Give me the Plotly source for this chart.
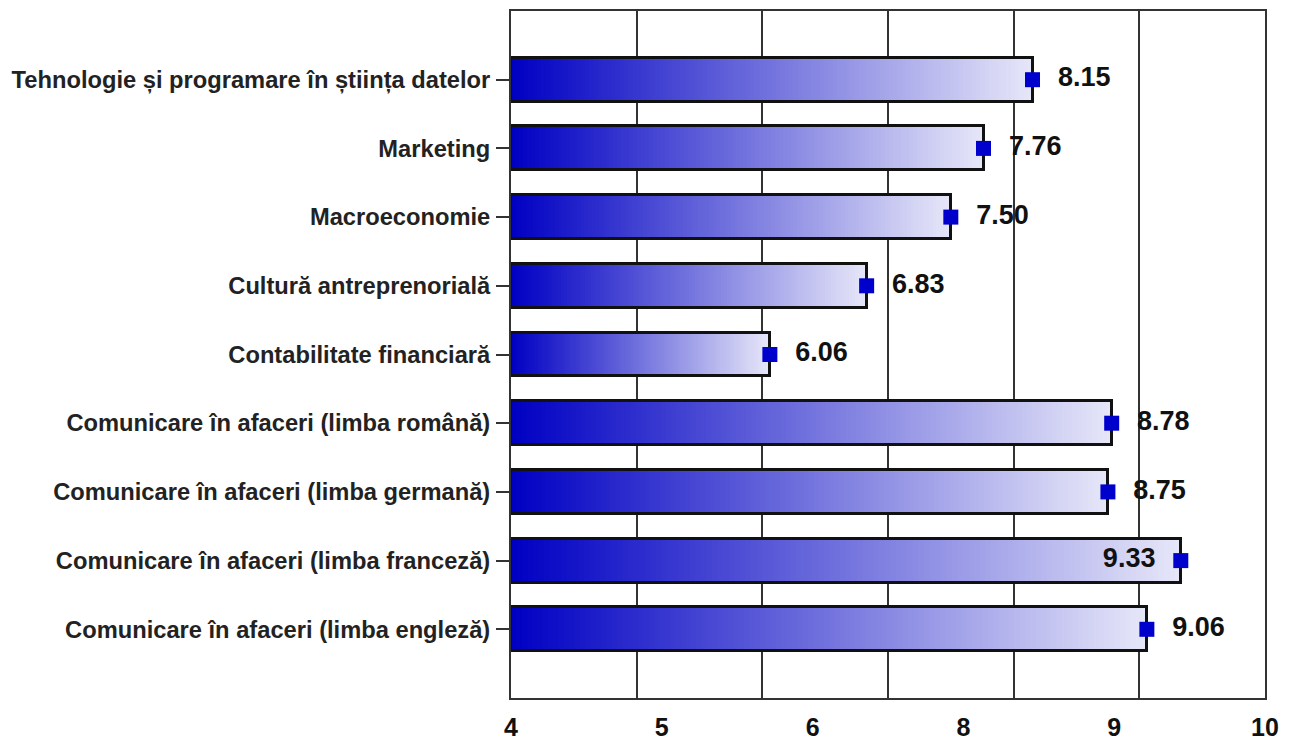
import plotly.graph_objects as go
import numpy as np

categories = [
    "Tehnologie și programare în știința datelor",
    "Marketing",
    "Macroeconomie",
    "Cultură antreprenorială",
    "Contabilitate financiară",
    "Comunicare în afaceri (limba română)",
    "Comunicare în afaceri (limba germană)",
    "Comunicare în afaceri (limba franceză)",
    "Comunicare în afaceri (limba engleză)",
]
values = [8.15, 7.76, 7.50, 6.83, 6.06, 8.78, 8.75, 9.33, 9.06]
value_labels = ["8.15", "7.76", "7.50", "6.83", "6.06", "8.78", "8.75", "9.33", "9.06"]
label_side = ["right", "right", "right", "right", "right", "right", "right", "left", "right"]
x_tick_labels = ["4", "5", "6", "8", "9", "10"]

AXIS_MIN, AXIS_MAX = 4, 10
FONT = "Liberation Sans, Arial, sans-serif"
BAR_W = 0.64
N_SEG = 120
c0 = np.array([0, 0, 195])
c1 = np.array([232, 232, 249])
NB = "\u00a0"

fig = go.Figure()

lengths = [v - AXIS_MIN for v in values]
# gradient: overlapping segments, each starting further right, painted over previous
for k in range(N_SEG):
    t = k / N_SEG
    col = c0 + (c1 - c0) * t
    fig.add_trace(go.Bar(
        y=categories,
        x=[L * (1 - t) for L in lengths],
        base=[AXIS_MIN + L * t for L in lengths],
        orientation="h",
        width=BAR_W,
        marker=dict(color="rgb(%d,%d,%d)" % tuple(col.round().astype(int)), line=dict(width=0)),
        hoverinfo="skip",
        showlegend=False,
    ))

# outline
fig.add_trace(go.Bar(
    y=categories,
    x=lengths,
    base=[AXIS_MIN] * len(values),
    orientation="h",
    width=BAR_W,
    marker=dict(color="rgba(0,0,0,0)", line=dict(color="#111111", width=3)),
    showlegend=False,
    hovertemplate="%{y}: %{customdata}<extra></extra>",
    customdata=values,
))

# markers + labels
texts = [(NB + NB + t) if s == "right" else (t + NB + NB) for t, s in zip(value_labels, label_side)]
fig.add_trace(go.Scatter(
    y=categories,
    x=values,
    mode="markers+text",
    marker=dict(symbol="square", size=15, color="#0000CC"),
    text=texts,
    textposition=["middle " + s for s in label_side],
    textfont=dict(family=FONT, size=27, color="#111111", weight="bold"),
    showlegend=False,
    hoverinfo="skip",
    cliponaxis=False,
))

fig.update_layout(
    width=1294, height=740,
    margin=dict(l=503, r=37, t=3, b=50, autoexpand=False),
    paper_bgcolor="white",
    plot_bgcolor="white",
    barmode="overlay",
    bargap=0,
    showlegend=False,
)

fig.update_xaxes(
    range=[AXIS_MIN, AXIS_MAX],
    automargin=False,
    tickmode="array",
    tickvals=list(np.linspace(AXIS_MIN, AXIS_MAX, len(x_tick_labels))),
    ticktext=x_tick_labels,
    showgrid=False,
    zeroline=False,
    ticks="outside", ticklen=6, tickcolor="rgba(0,0,0,0)",
    tickfont=dict(family=FONT, size=25, color="#111111", weight="bold"),
    showline=True, linecolor="#333333", linewidth=2, mirror=True,
    minor=dict(showgrid=True, gridcolor="#333333", gridwidth=2, tick0=AXIS_MIN, dtick=1, ticks=""),
)

fig.update_yaxes(
    type="category",
    automargin=False,
    categoryorder="array",
    categoryarray=categories,
    range=[len(categories), -1],
    showgrid=False,
    zeroline=False,
    ticks="outside", ticklen=13, tickcolor="#333333", tickwidth=2,
    ticklabelstandoff=1,
    tickfont=dict(family=FONT, size=23.7, color="#222222", weight="bold"),
    showline=True, linecolor="#333333", linewidth=2, mirror=True,
)

fig.write_html("out.html")
